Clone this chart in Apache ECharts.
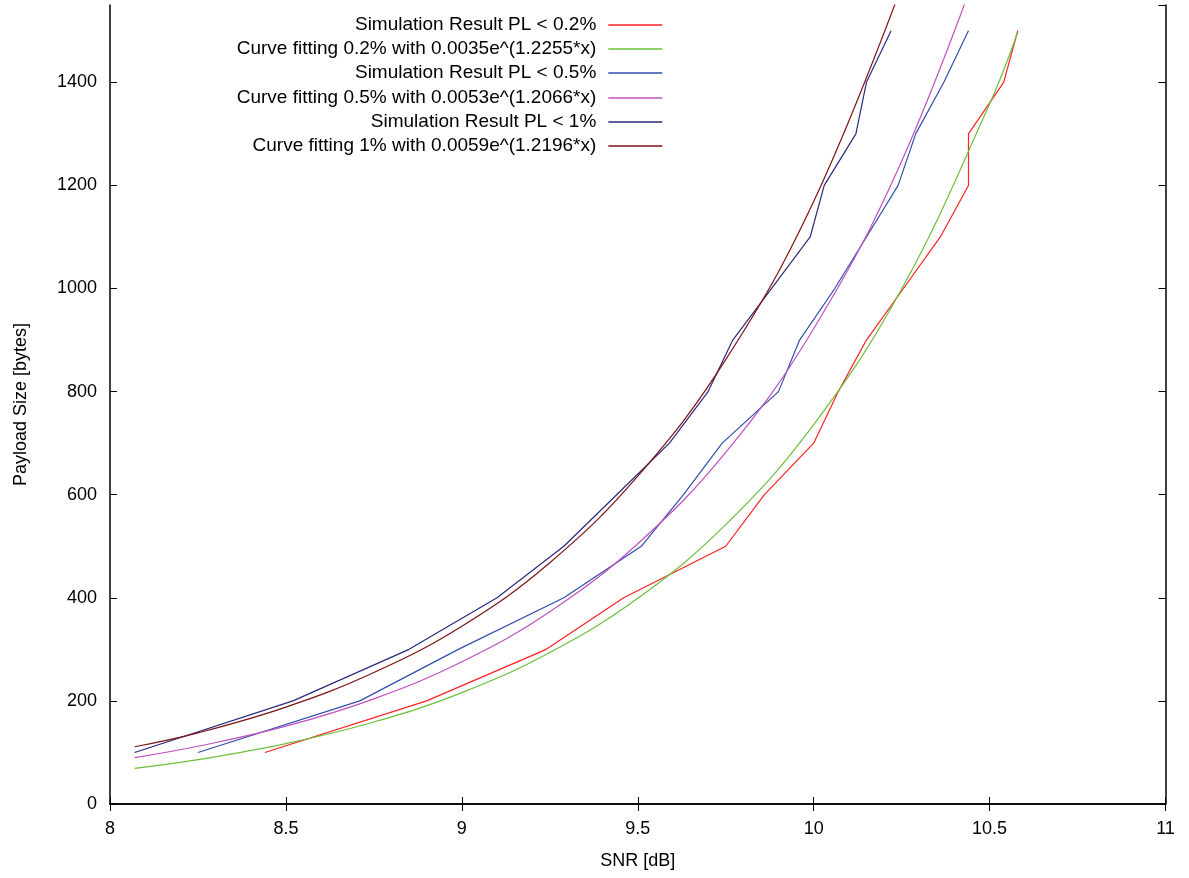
<!DOCTYPE html>
<html>
<head>
<meta charset="utf-8">
<script src="https://cdn.jsdelivr.net/npm/echarts@6/dist/echarts.min.js"></script>
<style>
html,body{margin:0;padding:0;background:#fff;}
#chart{width:1189px;height:878px;}
</style>
</head>
<body>
<div id="chart"></div>
<script>
// ---- data ----
const seriesNames = [
  'Simulation Result PL < 0.2%',
  'Curve fitting 0.2% with 0.0035e^(1.2255*x)',
  'Simulation Result PL < 0.5%',
  'Curve fitting 0.5% with 0.0053e^(1.2066*x)',
  'Simulation Result PL < 1%',
  'Curve fitting 1% with 0.0059e^(1.2196*x)'
];
const seriesColors = ['#ff2020', '#6cbf3c', '#3050a8', '#c050c0', '#2a2a7c', '#7c1414'];

// simulation results: payload levels (bytes) and the SNR where each is reached
const payloadLevels = [100, 200, 300, 400, 500, 600, 700, 800, 900, 1000, 1100, 1200, 1300, 1400, 1500];
const snrSim02 = [8.44, 8.90, 9.24, 9.46, 9.75, 9.86, 10.00, 10.07, 10.15, 10.255, 10.36, 10.44, 10.44, 10.54, 10.58];
const snrSim05 = [8.25, 8.71, 8.99, 9.29, 9.51, 9.63, 9.74, 9.90, 9.96, 10.06, 10.15, 10.24, 10.29, 10.37, 10.44];
const snrSim1  = [8.07, 8.52, 8.85, 9.10, 9.29, 9.44, 9.59, 9.70, 9.77, 9.88, 9.99, 10.03, 10.12, 10.15, 10.22];

// fitted curves, values read at sample SNR positions
const snrFit   = [8.07, 8.25, 8.5, 8.75, 9.0, 9.25, 9.5, 9.75, 10.0, 10.25, 10.5, 10.58];
const fit02    = [69, 86, 117, 159, 216, 294, 399, 542, 736, 999, 1358, 1497];
const fit05    = [90, 112, 151, 204, 276, 373, 505, 682, 922, 1247, 1685];
const fit1     = [111, 138, 188, 255, 345, 468, 636, 862, 1169, 1586];

// axis settings
const xMin = 8, xMax = 11, xStep = 0.5;
const yMin = 0, yMax = 1550, yStep = 200;

function pairs(xs, ys) {
  const out = [];
  for (let i = 0; i < ys.length; i++) out.push([xs[i], ys[i]]);
  return out;
}

const FONT = '"Liberation Sans", Arial, Helvetica, sans-serif';
const chart = echarts.init(document.getElementById('chart'), null, {renderer: 'canvas'});

function lineSeries(idx, data, smooth) {
  return {
    name: seriesNames[idx],
    type: 'line',
    data: data,
    xAxisIndex: 0, yAxisIndex: 0,
    symbol: 'none',
    showSymbol: false,
    smooth: smooth ? 0.4 : false,
    clip: true,
    lineStyle: {color: seriesColors[idx], width: 1.2},
    itemStyle: {color: seriesColors[idx]},
    emphasis: {disabled: true},
    z: 2
  };
}

const series = [
  lineSeries(0, pairs(snrSim02, payloadLevels), false),
  lineSeries(1, pairs(snrFit, fit02), true),
  lineSeries(2, pairs(snrSim05, payloadLevels), false),
  lineSeries(3, pairs(snrFit, fit05), true),
  lineSeries(4, pairs(snrSim1, payloadLevels), false),
  lineSeries(5, pairs(snrFit, fit1), true)
];

const legendRowsY = [25, 49, 73, 97.5, 122, 146];
const legends = seriesNames.map((n, i) => ({
  data: [n],
  orient: 'vertical',
  align: 'right',
  right: 526,
  top: Math.round(legendRowsY[i] - 10),
  padding: 0,
  itemWidth: 54,
  itemHeight: 20,
  selectedMode: false,
  itemStyle: {opacity: 0, borderWidth: 0},
  lineStyle: {color: seriesColors[i], width: 1.4, opacity: 1},
  textStyle: {fontFamily: FONT, fontSize: 19, color: '#000', lineHeight: 20, padding: [0, 7, 0, 0]}
}));

const axisLineStyle = {show: true, lineStyle: {color: '#000', width: 1.5}};
const tickStyle = {show: true, inside: true, length: 7, lineStyle: {color: '#000', width: 1}};

const option = {
  animation: false,
  backgroundColor: '#fff',
  grid: {left: 110, right: 23.5, top: 5, bottom: 74, containLabel: false},
  legend: legends,
  xAxis: [
    {
      type: 'value', min: xMin, max: xMax, interval: xStep, position: 'bottom',
      name: 'SNR [dB]', nameLocation: 'middle', nameGap: 48,
      nameTextStyle: {fontFamily: FONT, fontSize: 18, color: '#000'},
      axisLine: axisLineStyle, axisTick: tickStyle,
      axisLabel: {fontFamily: FONT, fontSize: 18, color: '#000', margin: 16, formatter: v => String(v)},
      splitLine: {show: false}
    },
    {
      type: 'value', min: xMin, max: xMax, interval: xStep, position: 'top',
      axisLine: axisLineStyle, axisTick: tickStyle,
      axisLabel: {show: false}, splitLine: {show: false}
    }
  ],
  yAxis: [
    {
      type: 'value', min: yMin, max: yMax, interval: yStep, position: 'left',
      name: 'Payload Size [bytes]', nameLocation: 'middle', nameGap: 80, nameRotate: 90,
      nameTextStyle: {fontFamily: FONT, fontSize: 18, color: '#000'},
      axisLine: axisLineStyle, axisTick: tickStyle,
      axisLabel: {fontFamily: FONT, fontSize: 18, color: '#000', margin: 13, showMaxLabel: false, formatter: v => String(v)},
      splitLine: {show: false}
    },
    {
      type: 'value', min: yMin, max: yMax, interval: yStep, position: 'right',
      axisLine: axisLineStyle, axisTick: tickStyle,
      axisLabel: {show: false}, splitLine: {show: false}
    }
  ],
  series: series
};
chart.setOption(option);
</script>
</body>
</html>
